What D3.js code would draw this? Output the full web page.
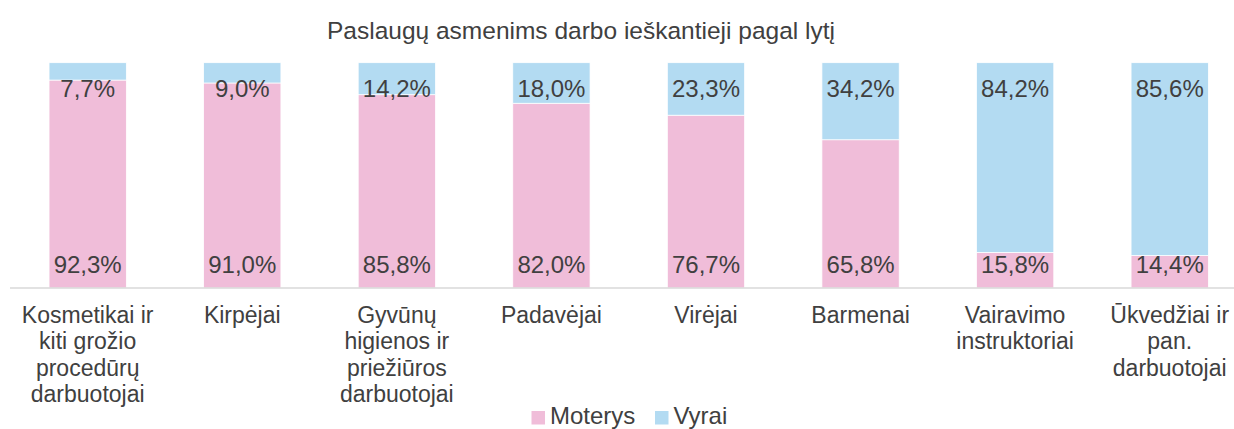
<!DOCTYPE html>
<html>
<head>
<meta charset="utf-8">
<script src="https://cdn.jsdelivr.net/npm/d3@7"></script>
<style>
  body { margin: 0; background: #fff; }
  text { font-family: "Liberation Sans", Arial, sans-serif; fill: #404040; }
</style>
</head>
<body>
<svg id="chart" width="1234" height="429"></svg>
<script>
var categories = ['Kosmetikai ir kiti grožio procedūrų darbuotojai', 'Kirpėjai',
  'Gyvūnų higienos ir priežiūros darbuotojai', 'Padavėjai', 'Virėjai', 'Barmenai',
  'Vairavimo instruktoriai', 'Ūkvedžiai ir pan. darbuotojai']
var moterys = [92.3, 91.0, 85.8, 82.0, 76.7, 65.8, 15.8, 14.4]
var vyrai = [7.7, 9.0, 14.2, 18.0, 23.3, 34.2, 84.2, 85.6]
var seriesNames = ['Moterys', 'Vyrai']
var colors = ['#f0bdd9', '#b3dbf2']

var svg = d3.select('#chart')
var fmt = function (v) { return d3.format('.1f')(v).replace('.', ',') + '%' }

// title
svg.append('text')
  .attr('x', 581).attr('y', 39)
  .attr('text-anchor', 'middle')
  .style('font-size', '24.5px')
  .text('Paslaugų asmenims darbo ieškantieji pagal lytį')

xScale = d3.scaleBand()
  .domain(categories)
  .range([10.4, 1247])
  .paddingInner(0.5)
  .paddingOuter(0.25)

yScale = d3.scaleLinear()
  .domain([0, 100])
  .range([288, 62.7])

var rows = categories.map(function (c, i) { return { cat: c, Moterys: moterys[i], Vyrai: vyrai[i] } })
var stacked = d3.stack().keys(seriesNames)(rows)

// bars
svg.append('g').selectAll('g')
  .data(stacked)
  .enter()
  .append('g')
  .attr('fill', function (d, i) { return colors[i] })
  .selectAll('rect')
  .data(function (d) { return d })
  .enter()
  .append('rect')
  .attr('x', function (d) { return xScale(d.data.cat) })
  .attr('width', xScale.bandwidth())
  .attr('y', function (d) { return yScale(d[1]) })
  .attr('height', function (d) { return yScale(d[0]) - yScale(d[1]) })
  .style('stroke', '#fff')
  .style('stroke-width', 0.75)

// axis line
svg.append('line')
  .attr('x1', 10).attr('x2', 1234)
  .attr('y1', yScale(0)).attr('y2', yScale(0))
  .style('stroke', '#d9d9d9')
  .style('stroke-width', 1.5)

// data labels: Moterys at inside base, Vyrai at inside end
var labels = svg.append('g')
labels.selectAll('.lm')
  .data(stacked[0])
  .enter()
  .append('text')
  .attr('x', function (d) { return xScale(d.data.cat) + xScale.bandwidth() / 2 })
  .attr('y', function (d) { return yScale(d[0]) - 15.5 })
  .attr('text-anchor', 'middle')
  .style('font-size', '24px')
  .text(function (d) { return fmt(d.data.Moterys) })
labels.selectAll('.lv')
  .data(stacked[1])
  .enter()
  .append('text')
  .attr('x', function (d) { return xScale(d.data.cat) + xScale.bandwidth() / 2 })
  .attr('y', function (d) { return yScale(d[1]) + 34 })
  .attr('text-anchor', 'middle')
  .style('font-size', '24px')
  .text(function (d) { return fmt(d.data.Vyrai) })

// category labels, wrapped to the band
function wrap(textSel, width) {
  textSel.each(function () {
    var t = d3.select(this)
    var words = t.text().split(' ')
    var x = t.attr('x')
    t.text(null)
    var line = []
    var tspan = t.append('tspan').attr('x', x).attr('dy', 0)
    words.forEach(function (w) {
      line.push(w)
      tspan.text(line.join(' '))
      if (tspan.node().getComputedTextLength() > width && line.length > 1) {
        line.pop()
        tspan.text(line.join(' '))
        line = [w]
        tspan = t.append('tspan').attr('x', x).attr('dy', 26.5).text(w)
      }
    })
  })
}

svg.append('g').selectAll('text')
  .data(categories)
  .enter()
  .append('text')
  .attr('x', function (d) { return xScale(d) + xScale.bandwidth() / 2 })
  .attr('y', 322.5)
  .attr('text-anchor', 'middle')
  .style('font-size', '23px')
  .text(function (d) { return d })
  .call(wrap, 146)

// legend
var legendX = [531.5, 655]
var legend = svg.append('g')
seriesNames.forEach(function (s, i) {
  legend.append('rect')
    .attr('x', legendX[i]).attr('y', 411)
    .attr('width', 13.5).attr('height', 13.5)
    .attr('fill', colors[i])
  legend.append('text')
    .attr('x', legendX[i] + 18.5).attr('y', 424)
    .style('font-size', '24px')
    .text(s)
})
</script>
</body>
</html>
